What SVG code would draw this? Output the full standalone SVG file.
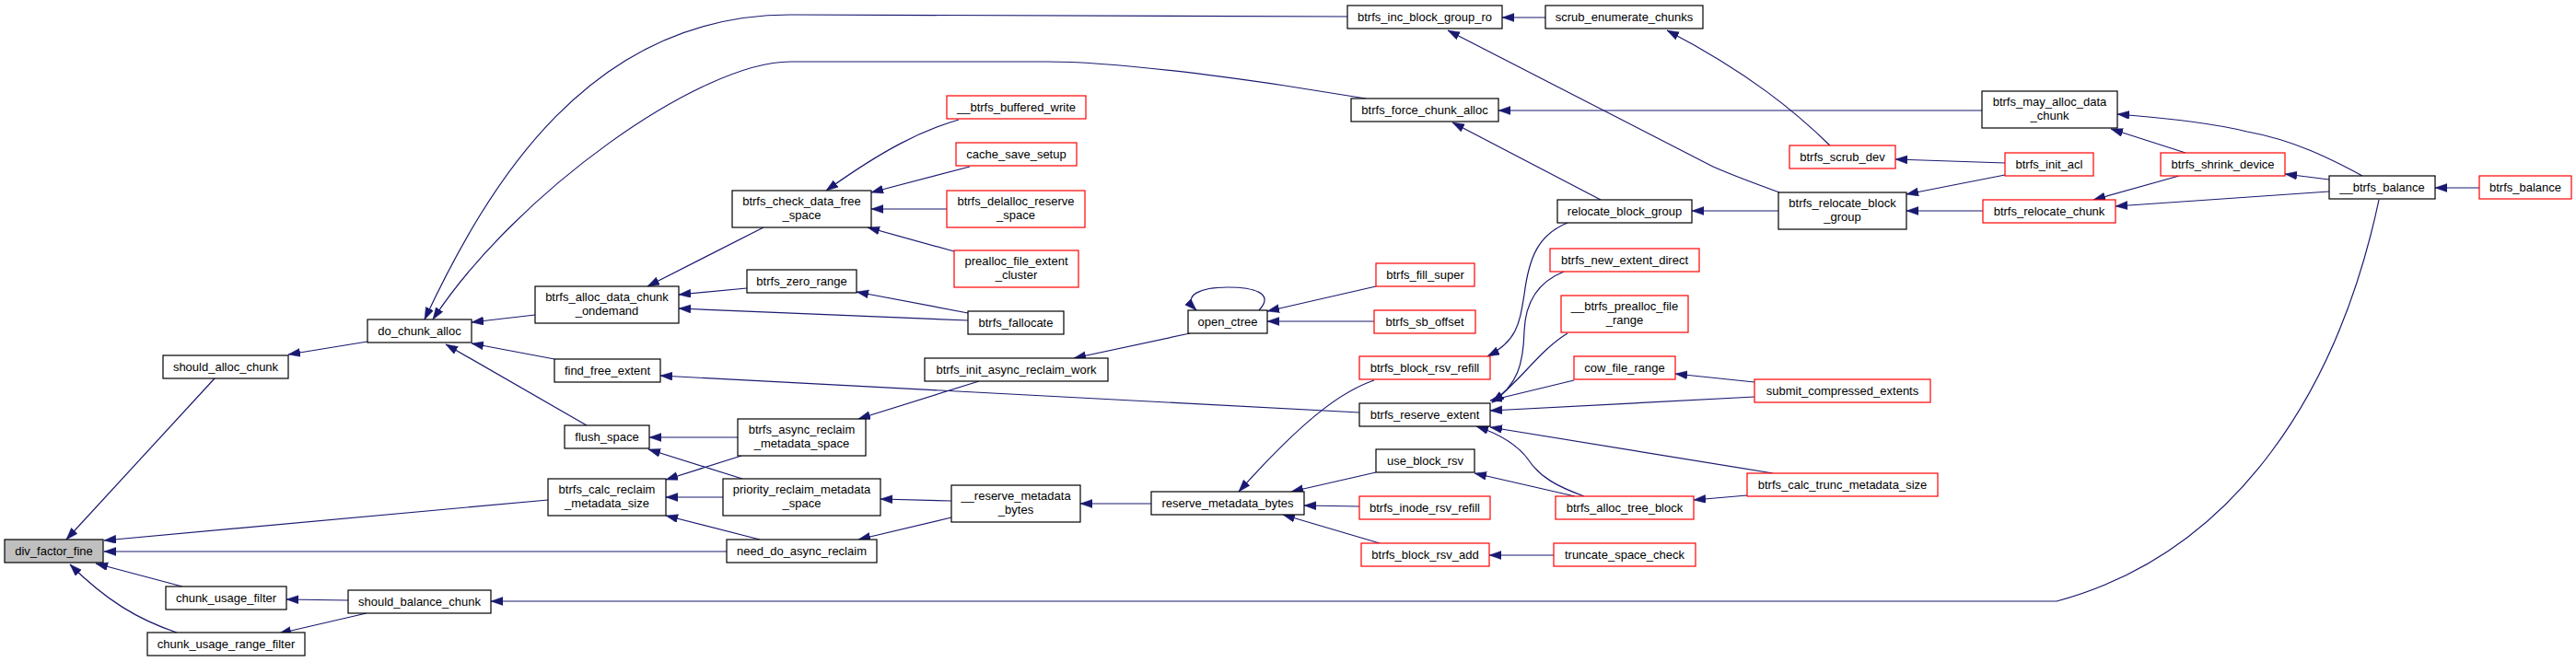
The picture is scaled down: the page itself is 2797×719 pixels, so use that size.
<svg xmlns="http://www.w3.org/2000/svg" width="2797" height="719" viewBox="0 0 2797 719">
<style>
.n rect{fill:#fff;stroke:#000;stroke-width:1.2}
.n.r rect{stroke:#ff0000}
.n.root rect{fill:#bfbfbf}
.n text{font-family:"Liberation Sans",Arial,sans-serif;font-size:13px;fill:#000;text-anchor:middle}
#edges path{fill:none;stroke:#191970;stroke-width:1.2;marker-end:url(#ah)}
</style>
<defs>
<marker id="ah" markerUnits="userSpaceOnUse" markerWidth="14" markerHeight="10" refX="13" refY="4.5" orient="auto" viewBox="0 0 14 10">
<path d="M0,0 L13,4.5 L0,9 z" fill="#191970" stroke="#191970" stroke-width="0.5"/>
</marker>
</defs>
<rect width="2797" height="719" fill="#fff"/>
<g id="edges">
<path d="M233,411 L72,586"/>
<path d="M595,543 L113,587"/>
<path d="M789,599 L113,599"/>
<path d="M198,637 L104,612"/>
<path d="M192,687 C150,673 115,652 76,613"/>
<path d="M399,371 L313,385"/>
<path d="M581,342 L512,350"/>
<path d="M602,390 L512,373"/>
<path d="M637,462 L484,374"/>
<path d="M1463,18 L858,16 C640,16 530,200 461,347"/>
<path d="M1483,107 L1395,93 C1300,79 1200,67 1137,67 L858,67 C760,67 560,210 470,347"/>
<path d="M829,247 L703,311"/>
<path d="M811,313 L737,320"/>
<path d="M1051,348 L737,335"/>
<path d="M1051,340 L930,317"/>
<path d="M1041,130 C1000,142 960,162 897,207"/>
<path d="M1053,181 L946,209"/>
<path d="M1028,227 L946,227"/>
<path d="M1036,273 L942,247"/>
<path d="M801,475 L705,475"/>
<path d="M806,520 L704,488"/>
<path d="M805,495 L723,521"/>
<path d="M785,540 L723,540"/>
<path d="M825,586 L723,560"/>
<path d="M1063,414 L932,455"/>
<path d="M1033,544 L956,542"/>
<path d="M1033,562 L932,586"/>
<path d="M1292,362 L1166,389"/>
<path d="M1250,547 L1173,547"/>
<path d="M1494,311 L1376,338"/>
<path d="M1492,349 L1376,349"/>
<path d="M1367,337 C1385,318 1360,312 1333,312 C1305,312 1282,320 1299,337"/>
<path d="M1492,413 C1460,424 1420,450 1345,534"/>
<path d="M1494,513 L1402,534"/>
<path d="M1476,550 L1416,549"/>
<path d="M1498,590 L1393,559"/>
<path d="M1687,603 L1617,603"/>
<path d="M1476,448 L717,408"/>
<path d="M1702,242 C1670,255 1660,280 1655,320 C1650,350 1648,370 1615,387"/>
<path d="M1698,295 C1668,307 1656,330 1655,360 C1654,395 1648,418 1620,437"/>
<path d="M1702,362 C1672,380 1650,415 1620,437"/>
<path d="M1709,413 L1618,435"/>
<path d="M1905,431 L1618,446"/>
<path d="M1905,415 L1819,406"/>
<path d="M1925,514 L1618,464"/>
<path d="M1720,539 C1690,528 1672,518 1660,500 C1648,483 1630,472 1603,463"/>
<path d="M1710,539 L1601,514"/>
<path d="M1897,538 L1839,543"/>
<path d="M1678,19 L1631,19"/>
<path d="M1932,209 C1905,199 1885,192 1860,181 L1572,33"/>
<path d="M1987,158 C1950,122 1900,80 1810,33"/>
<path d="M2177,177 L2058,173"/>
<path d="M2177,190 L2070,211"/>
<path d="M2153,229 L2070,229"/>
<path d="M1931,229 L1837,229"/>
<path d="M1738,217 L1577,133"/>
<path d="M2152,120 L1627,120"/>
<path d="M2373,166 L2292,140"/>
<path d="M2565,191 C2530,172 2490,152 2440,143 C2400,133 2350,128 2299,124"/>
<path d="M2529,195 L2481,189"/>
<path d="M2529,208 L2297,224"/>
<path d="M2366,191 L2273,217"/>
<path d="M2692,204 L2644,204"/>
<path d="M2583,217 C2540,420 2430,600 2233,653 L533,653"/>
<path d="M378,652 L311,651"/>
<path d="M398,666 L303,688"/>
</g>
<g id="div_factor_fine" class="n root"><rect x="5" y="586" width="107" height="25"/><text x="58.5" y="603">div_factor_fine</text></g>
<g id="should_alloc_chunk" class="n"><rect x="177" y="386" width="136" height="25"/><text x="245" y="403">should_alloc_chunk</text></g>
<g id="chunk_usage_filter" class="n"><rect x="180" y="637" width="131" height="25"/><text x="245.5" y="654">chunk_usage_filter</text></g>
<g id="chunk_usage_range_filter" class="n"><rect x="160" y="687" width="171" height="25"/><text x="245.5" y="704">chunk_usage_range_filter</text></g>
<g id="should_balance_chunk" class="n"><rect x="378" y="641" width="155" height="25"/><text x="455.5" y="658">should_balance_chunk</text></g>
<g id="do_chunk_alloc" class="n"><rect x="399" y="347" width="113" height="25"/><text x="455.5" y="364">do_chunk_alloc</text></g>
<g id="btrfs_alloc_data_chunk_ondemand" class="n"><rect x="581" y="311" width="156" height="40"/><text x="659" y="327">btrfs_alloc_data_chunk</text><text x="659" y="342">_ondemand</text></g>
<g id="find_free_extent" class="n"><rect x="602" y="390" width="115" height="25"/><text x="659.5" y="407">find_free_extent</text></g>
<g id="flush_space" class="n"><rect x="613" y="462" width="92" height="25"/><text x="659" y="479">flush_space</text></g>
<g id="btrfs_calc_reclaim_metadata_size" class="n"><rect x="595" y="520" width="128" height="40"/><text x="659" y="536">btrfs_calc_reclaim</text><text x="659" y="551">_metadata_size</text></g>
<g id="need_do_async_reclaim" class="n"><rect x="789" y="586" width="163" height="25"/><text x="870.5" y="603">need_do_async_reclaim</text></g>
<g id="btrfs_check_data_free_space" class="n"><rect x="795" y="207" width="151" height="40"/><text x="870.5" y="223">btrfs_check_data_free</text><text x="870.5" y="238">_space</text></g>
<g id="btrfs_zero_range" class="n"><rect x="811" y="293" width="119" height="25"/><text x="870.5" y="310">btrfs_zero_range</text></g>
<g id="btrfs_fallocate" class="n"><rect x="1051" y="338" width="104" height="25"/><text x="1103" y="355">btrfs_fallocate</text></g>
<g id="__btrfs_buffered_write" class="n r"><rect x="1028" y="104" width="151" height="25"/><text x="1103.5" y="121">__btrfs_buffered_write</text></g>
<g id="cache_save_setup" class="n r"><rect x="1038" y="155" width="131" height="25"/><text x="1103.5" y="172">cache_save_setup</text></g>
<g id="btrfs_delalloc_reserve_space" class="n r"><rect x="1028" y="207" width="150" height="40"/><text x="1103" y="223">btrfs_delalloc_reserve</text><text x="1103" y="238">_space</text></g>
<g id="prealloc_file_extent_cluster" class="n r"><rect x="1036" y="272" width="135" height="40"/><text x="1103.5" y="288">prealloc_file_extent</text><text x="1103.5" y="303">_cluster</text></g>
<g id="btrfs_async_reclaim_metadata_space" class="n"><rect x="801" y="455" width="139" height="40"/><text x="870.5" y="471">btrfs_async_reclaim</text><text x="870.5" y="486">_metadata_space</text></g>
<g id="priority_reclaim_metadata_space" class="n"><rect x="785" y="520" width="171" height="40"/><text x="870.5" y="536">priority_reclaim_metadata</text><text x="870.5" y="551">_space</text></g>
<g id="btrfs_init_async_reclaim_work" class="n"><rect x="1004" y="389" width="199" height="25"/><text x="1103.5" y="406">btrfs_init_async_reclaim_work</text></g>
<g id="__reserve_metadata_bytes" class="n"><rect x="1033" y="527" width="140" height="40"/><text x="1103" y="543">__reserve_metadata</text><text x="1103" y="558">_bytes</text></g>
<g id="reserve_metadata_bytes" class="n"><rect x="1250" y="534" width="166" height="25"/><text x="1333" y="551">reserve_metadata_bytes</text></g>
<g id="open_ctree" class="n"><rect x="1290" y="337" width="86" height="25"/><text x="1333" y="354">open_ctree</text></g>
<g id="btrfs_fill_super" class="n r"><rect x="1494" y="286" width="107" height="25"/><text x="1547.5" y="303">btrfs_fill_super</text></g>
<g id="btrfs_sb_offset" class="n r"><rect x="1492" y="337" width="110" height="25"/><text x="1547" y="354">btrfs_sb_offset</text></g>
<g id="btrfs_inc_block_group_ro" class="n"><rect x="1463" y="6" width="168" height="25"/><text x="1547" y="23">btrfs_inc_block_group_ro</text></g>
<g id="scrub_enumerate_chunks" class="n"><rect x="1678" y="6" width="171" height="25"/><text x="1763.5" y="23">scrub_enumerate_chunks</text></g>
<g id="btrfs_force_chunk_alloc" class="n"><rect x="1467" y="107" width="160" height="25"/><text x="1547" y="124">btrfs_force_chunk_alloc</text></g>
<g id="relocate_block_group" class="n"><rect x="1691" y="217" width="146" height="25"/><text x="1764" y="234">relocate_block_group</text></g>
<g id="btrfs_new_extent_direct" class="n r"><rect x="1683" y="270" width="162" height="25"/><text x="1764" y="287">btrfs_new_extent_direct</text></g>
<g id="__btrfs_prealloc_file_range" class="n r"><rect x="1695" y="321" width="138" height="40"/><text x="1764" y="337">__btrfs_prealloc_file</text><text x="1764" y="352">_range</text></g>
<g id="cow_file_range" class="n r"><rect x="1709" y="387" width="110" height="25"/><text x="1764" y="404">cow_file_range</text></g>
<g id="btrfs_reserve_extent" class="n"><rect x="1476" y="438" width="142" height="25"/><text x="1547" y="455">btrfs_reserve_extent</text></g>
<g id="btrfs_block_rsv_refill" class="n r"><rect x="1476" y="387" width="142" height="25"/><text x="1547" y="404">btrfs_block_rsv_refill</text></g>
<g id="use_block_rsv" class="n"><rect x="1494" y="488" width="107" height="25"/><text x="1547.5" y="505">use_block_rsv</text></g>
<g id="btrfs_inode_rsv_refill" class="n r"><rect x="1476" y="539" width="142" height="25"/><text x="1547" y="556">btrfs_inode_rsv_refill</text></g>
<g id="btrfs_block_rsv_add" class="n r"><rect x="1478" y="590" width="139" height="25"/><text x="1547.5" y="607">btrfs_block_rsv_add</text></g>
<g id="btrfs_alloc_tree_block" class="n r"><rect x="1689" y="539" width="150" height="25"/><text x="1764" y="556">btrfs_alloc_tree_block</text></g>
<g id="truncate_space_check" class="n r"><rect x="1687" y="590" width="154" height="25"/><text x="1764" y="607">truncate_space_check</text></g>
<g id="submit_compressed_extents" class="n r"><rect x="1905" y="412" width="191" height="25"/><text x="2000.5" y="429">submit_compressed_extents</text></g>
<g id="btrfs_calc_trunc_metadata_size" class="n r"><rect x="1897" y="514" width="207" height="25"/><text x="2000.5" y="531">btrfs_calc_trunc_metadata_size</text></g>
<g id="btrfs_scrub_dev" class="n r"><rect x="1943" y="158" width="115" height="25"/><text x="2000.5" y="175">btrfs_scrub_dev</text></g>
<g id="btrfs_relocate_block_group" class="n"><rect x="1931" y="209" width="139" height="40"/><text x="2000.5" y="225">btrfs_relocate_block</text><text x="2000.5" y="240">_group</text></g>
<g id="btrfs_init_acl" class="n r"><rect x="2177" y="166" width="96" height="25"/><text x="2225" y="183">btrfs_init_acl</text></g>
<g id="btrfs_relocate_chunk" class="n r"><rect x="2153" y="217" width="144" height="25"/><text x="2225" y="234">btrfs_relocate_chunk</text></g>
<g id="btrfs_may_alloc_data_chunk" class="n"><rect x="2152" y="99" width="147" height="40"/><text x="2225.5" y="115">btrfs_may_alloc_data</text><text x="2225.5" y="130">_chunk</text></g>
<g id="btrfs_shrink_device" class="n r"><rect x="2346" y="166" width="135" height="25"/><text x="2413.5" y="183">btrfs_shrink_device</text></g>
<g id="__btrfs_balance" class="n"><rect x="2529" y="191" width="115" height="25"/><text x="2586.5" y="208">__btrfs_balance</text></g>
<g id="btrfs_balance" class="n r"><rect x="2692" y="191" width="100" height="25"/><text x="2742" y="208">btrfs_balance</text></g>
</svg>
